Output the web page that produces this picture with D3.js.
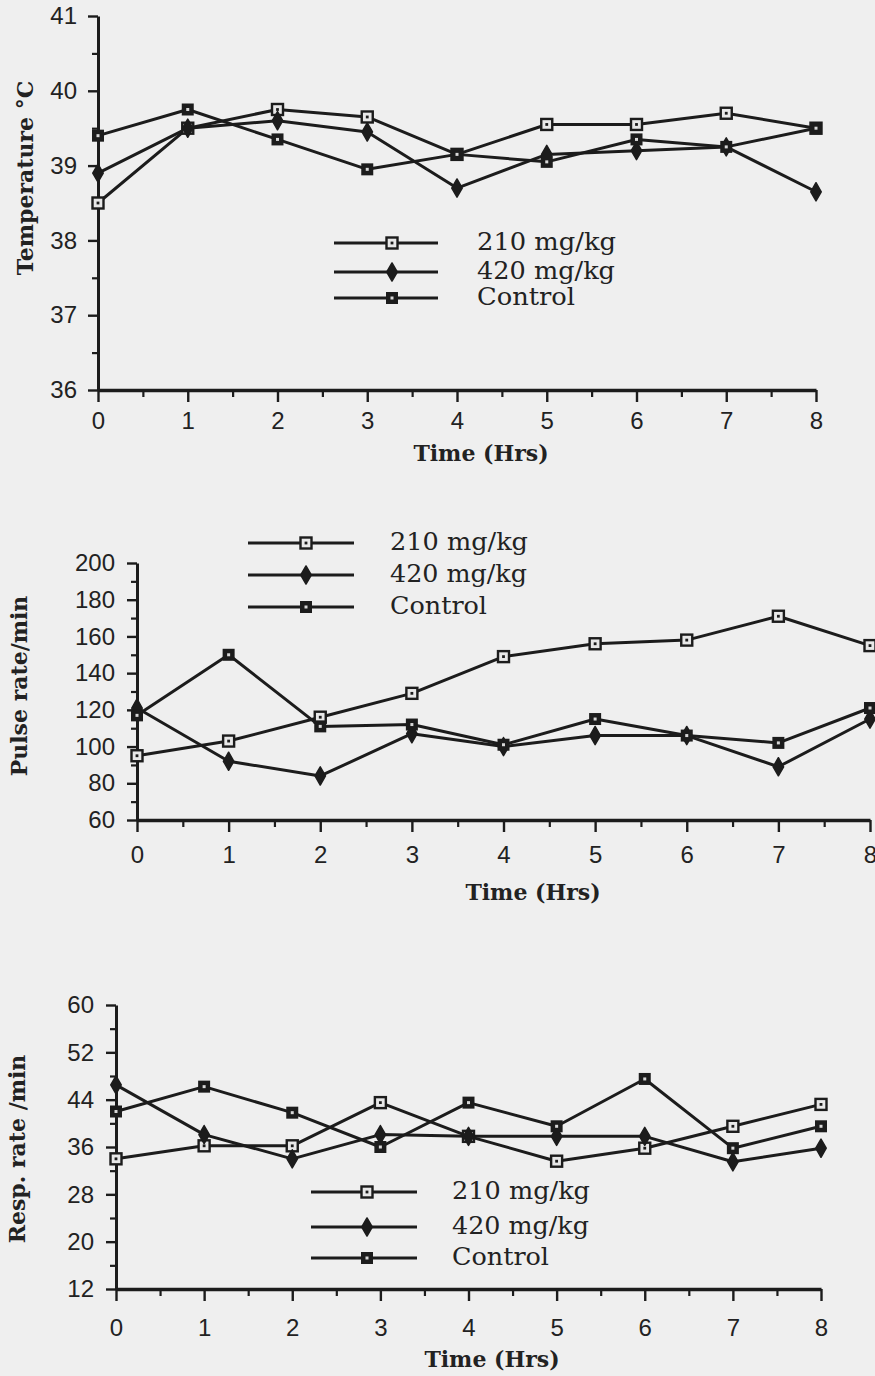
<!DOCTYPE html>
<html>
<head>
<meta charset="utf-8">
<script src="https://cdn.jsdelivr.net/npm/d3@7"></script>
<style>
  html, body { margin: 0; padding: 0; background: #efefef; }
  svg { display: block; }
</style>
</head>
<body>
<svg id="chart" width="875" height="1376"></svg>
<script>
// ---------------- DATA ----------------
const hours = [0, 1, 2, 3, 4, 5, 6, 7, 8];
const hourTicks = [0, 1, 2, 3, 4, 5, 6, 7, 8];
const hourMinorTicks = [0.5, 1.5, 2.5, 3.5, 4.5, 5.5, 6.5, 7.5];
const seriesNames = ["210 mg/kg", "420 mg/kg", "Control"];
const markerKinds = ["open", "diamond", "filled"];

// Temperature (°C)
const temp210 = [38.5, 39.5, 39.75, 39.65, 39.15, 39.55, 39.55, 39.7, 39.5];
const temp420 = [38.9, 39.5, 39.6, 39.45, 38.7, 39.15, 39.2, 39.25, 38.65];
const tempControl = [39.4, 39.75, 39.35, 38.95, 39.15, 39.05, 39.35, 39.25, 39.5];
const tempTicks = [36, 37, 38, 39, 40, 41];
const tempMinorTicks = [36.5, 37.5, 38.5, 39.5, 40.5];

// Pulse rate / min
const pulse210 = [95, 103, 116, 129, 149, 156, 158, 171, 155];
const pulse420 = [121, 92, 84, 107, 100, 106, 106, 89, 115];
const pulseControl = [117, 150, 111, 112, 101, 115, 106, 102, 121];
const pulseTicks = [60, 80, 100, 120, 140, 160, 180, 200];
const pulseMinorTicks = [70, 90, 110, 130, 150, 170, 190];

// Respiration rate / min
const resp210 = [34, 36.2, 36.2, 43.5, 37.8, 33.6, 35.8, 39.5, 43.2];
const resp420 = [46.5, 38.1, 34, 38.1, 37.8, 37.8, 37.8, 33.5, 35.8];
const respControl = [42, 46.2, 41.8, 36, 43.5, 39.5, 47.5, 35.8, 39.5];
const respTicks = [12, 20, 28, 36, 44, 52, 60];
const respMinorTicks = [16, 24, 32, 40, 48, 56];

// ---------------- DRAW ----------------
const svg = d3.select("#chart");
svg.append("rect").attr("width", 875).attr("height", 1376).attr("fill", "#efefef");

const INK = "#1c1c1c";
const TICK_FONT = "'Liberation Sans', Arial, sans-serif";
const SERIF = "'DejaVu Serif', serif";

function drawMarker(g, kind, cx, cy) {
  if (kind === "open") {
    g.append("rect").attr("x", cx - 5.5).attr("y", cy - 5.5).attr("width", 11).attr("height", 11)
      .attr("fill", "#e8e8e8").attr("stroke", INK).attr("stroke-width", 2.4);
    g.append("rect").attr("x", cx - 1.4).attr("y", cy - 1.4).attr("width", 2.8).attr("height", 2.8)
      .attr("fill", INK);
  } else if (kind === "diamond") {
    g.append("path").attr("d", d3.symbol().type(d3.symbolDiamond).size(95)())
      .attr("transform", `translate(${cx},${cy})`).attr("fill", INK)
      .attr("stroke", INK).attr("stroke-width", 1.5).attr("stroke-linejoin", "round");
  } else {
    g.append("rect").attr("x", cx - 6).attr("y", cy - 6).attr("width", 12).attr("height", 12)
      .attr("fill", INK);
    g.append("rect").attr("x", cx - 1.5).attr("y", cy - 1.5).attr("width", 3).attr("height", 3)
      .attr("fill", "#d8d8d8");
  }
}

function drawChart(cfg) {
  const g = svg.append("g");
  const x = d3.scaleLinear().domain([0, 8]).range(cfg.xRange);
  const y = d3.scaleLinear().domain(cfg.yDomain).range(cfg.yRange);
  const fmt = d3.format("d");

  // y axis minor ticks
  const yMinor = g.append("g").attr("transform", `translate(${cfg.xRange[0]},0)`)
    .call(d3.axisLeft(y).tickValues(cfg.yMinor).tickSize(6).tickFormat(""));
  yMinor.select(".domain").remove();
  yMinor.selectAll("line").attr("stroke", INK).attr("stroke-width", 2.2);

  // x axis minor ticks
  const xMinor = g.append("g").attr("transform", `translate(0,${cfg.yRange[0]})`)
    .call(d3.axisBottom(x).tickValues(hourMinorTicks).tickSize(7).tickFormat(""));
  xMinor.select(".domain").remove();
  xMinor.selectAll("line").attr("stroke", INK).attr("stroke-width", 2.2);

  // y axis
  const yAx = g.append("g").attr("transform", `translate(${cfg.xRange[0]},0)`)
    .call(d3.axisLeft(y).tickValues(cfg.yTicks).tickFormat(fmt).tickSize(10).tickSizeOuter(0).tickPadding(cfg.yPad));
  yAx.select(".domain").attr("stroke", INK).attr("stroke-width", 3);
  yAx.selectAll("line").attr("stroke", INK).attr("stroke-width", 2.4);
  yAx.selectAll("text").attr("font-family", TICK_FONT).attr("font-size", 24).attr("fill", "#222");

  // x axis
  const xAx = g.append("g").attr("transform", `translate(0,${cfg.yRange[0]})`)
    .call(d3.axisBottom(x).tickValues(hourTicks).tickFormat(fmt).tickSize(12).tickSizeOuter(0).tickPadding(cfg.xPad));
  xAx.select(".domain").attr("stroke", INK).attr("stroke-width", 3.4);
  xAx.selectAll("line").attr("stroke", INK).attr("stroke-width", 2.4);
  xAx.selectAll("text").attr("font-family", TICK_FONT).attr("font-size", 24).attr("fill", "#222");

  // lines
  const line = d3.line().x((d, i) => x(hours[i])).y(d => y(d));
  cfg.series.forEach(s => {
    g.append("path").datum(s).attr("d", line).attr("fill", "none")
      .attr("stroke", INK).attr("stroke-width", 3).attr("stroke-linejoin", "round");
  });
  // markers
  cfg.series.forEach((s, si) => {
    s.forEach((v, i) => drawMarker(g, markerKinds[si], x(hours[i]), y(v)));
  });

  // axis titles
  g.append("text").attr("x", cfg.xTitle[0]).attr("y", cfg.xTitle[1])
    .attr("text-anchor", "middle").attr("font-family", SERIF).attr("font-weight", "bold")
    .attr("font-size", 22).attr("fill", "#222").text("Time (Hrs)");
  g.append("text").attr("transform", `translate(${cfg.yTitle[0]},${cfg.yTitle[1]}) rotate(-90)`)
    .attr("text-anchor", "middle").attr("dominant-baseline", "central")
    .attr("font-family", SERIF).attr("font-weight", "bold")
    .attr("font-size", 22).attr("fill", "#222").text(cfg.yLabel);

  // legend
  const L = cfg.legend;
  seriesNames.forEach((name, i) => {
    const ry = L.rows[i];
    g.append("line").attr("x1", L.x1).attr("x2", L.x2).attr("y1", ry).attr("y2", ry)
      .attr("stroke", INK).attr("stroke-width", 3);
    drawMarker(g, markerKinds[i], L.mx, ry);
    g.append("text").attr("x", L.tx).attr("y", ry).attr("dy", "0.3em")
      .attr("font-family", SERIF).attr("font-size", 24).attr("fill", "#222")
      .attr("textLength", L.tl[i]).attr("lengthAdjust", "spacingAndGlyphs").text(name);
  });
}

drawChart({
  xRange: [98, 816], yDomain: [36, 41], yRange: [390, 16],
  yTicks: tempTicks, yMinor: tempMinorTicks, yPad: 11, xPad: 10,
  series: [temp210, temp420, tempControl],
  xTitle: [481, 461], yTitle: [25, 178], yLabel: "Temperature °C",
  legend: { x1: 334, x2: 438, mx: 392, tx: 477, rows: [243, 272, 298], tl: [139, 138, 98] }
});

drawChart({
  xRange: [137, 870], yDomain: [60, 200], yRange: [820, 563],
  yTicks: pulseTicks, yMinor: pulseMinorTicks, yPad: 12, xPad: 14,
  series: [pulse210, pulse420, pulseControl],
  xTitle: [533, 900], yTitle: [19, 686], yLabel: "Pulse rate/min",
  legend: { x1: 248, x2: 354, mx: 306, tx: 390, rows: [543, 575, 607], tl: [138, 137, 97] }
});

drawChart({
  xRange: [116, 821], yDomain: [12, 60], yRange: [1289, 1005],
  yTicks: respTicks, yMinor: respMinorTicks, yPad: 12, xPad: 18,
  series: [resp210, resp420, respControl],
  xTitle: [492, 1367], yTitle: [17, 1149], yLabel: "Resp. rate /min",
  legend: { x1: 311, x2: 417, mx: 367, tx: 452, rows: [1192, 1227, 1258], tl: [138, 137, 97] }
});
</script>
</body>
</html>
